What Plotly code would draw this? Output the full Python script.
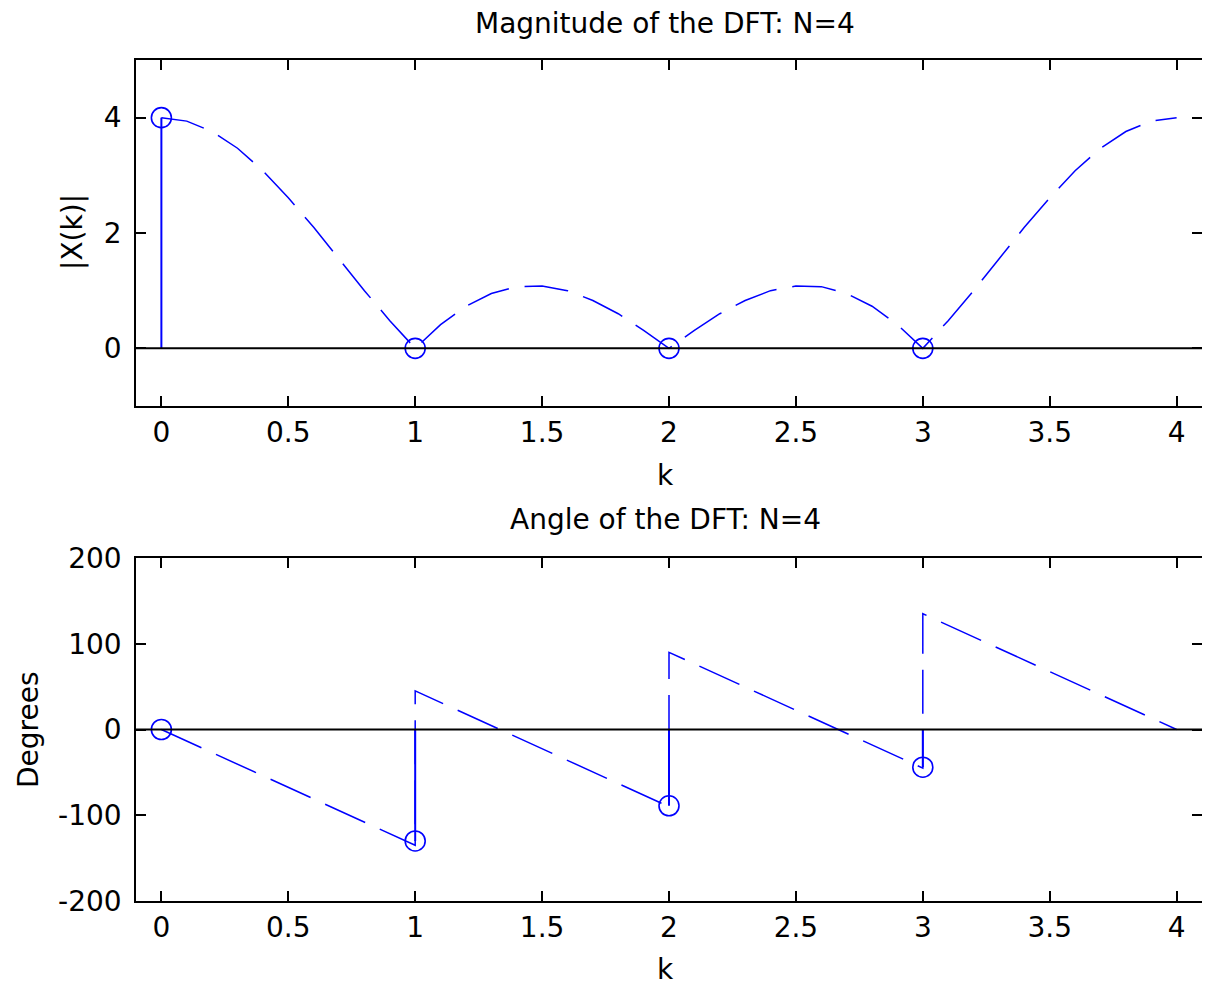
import plotly.graph_objects as go

# ---------------- data ----------------
k_dft = [0, 1, 2, 3]
mag_dft = [4.0, 0.0, 0.0, 0.0]
ang_dft = [0.0, -130.0, -89.0, -44.0]

k_curve = [0.0, 0.1, 0.2, 0.3, 0.4, 0.5, 0.6, 0.7, 0.8, 0.9,
           1.0, 1.1, 1.2, 1.3, 1.4, 1.5, 1.6, 1.7, 1.8, 1.9,
           2.0, 2.1, 2.2, 2.3, 2.4, 2.5, 2.6, 2.7, 2.8, 2.9,
           3.0, 3.1, 3.2, 3.3, 3.4, 3.5, 3.6, 3.7, 3.8, 3.9, 4.0]
mag_curve = [4.00, 3.94, 3.76, 3.47, 3.08, 2.61, 2.10, 1.55, 1.00, 0.48,
             0.00, 0.41, 0.73, 0.95, 1.07, 1.08, 1.00, 0.83, 0.60, 0.31,
             0.00, 0.31, 0.60, 0.83, 1.00, 1.08, 1.07, 0.95, 0.73, 0.41,
             0.00, 0.48, 1.00, 1.55, 2.10, 2.61, 3.08, 3.47, 3.76, 3.94, 4.00]

k_phase = [0, 1, 1, 2, 2, 3, 3, 4]
ang_curve = [0, -135, 45, -90, 90, -45, 135, 0]

x_ticks = [0, 0.5, 1, 1.5, 2, 2.5, 3, 3.5, 4]
x_ticktext = ["0", "0.5", "1", "1.5", "2", "2.5", "3", "3.5", "4"]
y1_ticks = [0, 2, 4]
y1_ticktext = ["0", "2", "4"]
y2_ticks = [-200, -100, 0, 100, 200]
y2_ticktext = ["-200", "-100", "0", "100", "200"]

title_top = "Magnitude of the DFT: N=4"
title_bot = "Angle of the DFT: N=4"
xlabel = "k"
ylabel_top = "|X(k)|"
ylabel_bot = "Degrees"

# ---------------- styling ----------------
BLUE = "#0000FF"
FONT = "DejaVu Sans"
OFF = 8                      # page body margin of the html page
W, H = 1210 - OFF, 987 - OFF


def px(x):
    return (x - OFF) / W


def py(y):
    return 1 - (y - OFF) / H


def stem_xy(xs, ys):
    sx, sy = [], []
    for x, y in zip(xs, ys):
        sx += [x, x, None]
        sy += [0, y, None]
    return sx, sy


fig = go.Figure()

DASH = "44px,16px"
MARK = dict(symbol="circle-open", size=20, color=BLUE, line=dict(color=BLUE, width=1.6))

# ---- top subplot ----
sx, sy = stem_xy(k_dft, mag_dft)
fig.add_trace(go.Scatter(x=sx, y=sy, mode="lines", line=dict(color=BLUE, width=2),
                         xaxis="x", yaxis="y", showlegend=False, hoverinfo="skip"))
fig.add_trace(go.Scatter(x=k_curve, y=mag_curve, mode="lines",
                         line=dict(color=BLUE, width=1.5, dash=DASH),
                         xaxis="x", yaxis="y", showlegend=False))
fig.add_trace(go.Scatter(x=k_dft, y=mag_dft, mode="markers", marker=MARK,
                         xaxis="x", yaxis="y", showlegend=False))

# ---- bottom subplot ----
sx, sy = stem_xy(k_dft, ang_dft)
fig.add_trace(go.Scatter(x=sx, y=sy, mode="lines", line=dict(color=BLUE, width=2),
                         xaxis="x2", yaxis="y2", showlegend=False, hoverinfo="skip"))
fig.add_trace(go.Scatter(x=k_phase, y=ang_curve, mode="lines",
                         line=dict(color=BLUE, width=1.5, dash=DASH),
                         xaxis="x2", yaxis="y2", showlegend=False))
fig.add_trace(go.Scatter(x=k_dft, y=ang_dft, mode="markers", marker=MARK,
                         xaxis="x2", yaxis="y2", showlegend=False))

xdom = [px(136), px(1202)]
y1dom = [py(406), py(60)]
y2dom = [py(901), py(558)]

axis_common = dict(
    showline=True, linecolor="black", linewidth=1.5, mirror="ticks",
    ticks="inside", ticklen=10, tickwidth=1.5, tickcolor="black",
    showgrid=False, zeroline=False, automargin=False,
    tickfont=dict(family=FONT, size=28, color="black"),
)

fig.update_layout(
    width=W, height=H,
    margin=dict(l=0, r=0, t=0, b=0),
    paper_bgcolor="white", plot_bgcolor="white",
    template="none",
    showlegend=False,
    xaxis=dict(domain=xdom, range=[-0.1, 4.1], anchor="y",
               tickvals=x_ticks, ticktext=x_ticktext, ticklabelstandoff=1, **axis_common),
    yaxis=dict(domain=y1dom, range=[-1, 5], anchor="x",
               tickvals=y1_ticks, ticktext=y1_ticktext, ticklabelstandoff=7, **axis_common),
    xaxis2=dict(domain=xdom, range=[-0.1, 4.1], anchor="y2",
                tickvals=x_ticks, ticktext=x_ticktext, ticklabelstandoff=1, **axis_common),
    yaxis2=dict(domain=y2dom, range=[-200, 200], anchor="x2",
                tickvals=y2_ticks, ticktext=y2_ticktext, ticklabelstandoff=7, **axis_common),
    shapes=[
        dict(type="line", xref="x domain", yref="y", x0=0, x1=1, y0=0, y1=0,
             line=dict(color="black", width=2), layer="above"),
        dict(type="line", xref="x2 domain", yref="y2", x0=0, x1=1, y0=0, y1=0,
             line=dict(color="black", width=2), layer="above"),
    ],
)

txt = dict(family=FONT, size=28, color="black")
ann = [
    dict(text=title_top, x=px(665), y=py(24), font=txt),
    dict(text=title_bot, x=px(665), y=py(519), font=txt),
    dict(text=xlabel, x=px(665), y=py(475), font=txt),
    dict(text=xlabel, x=px(665), y=py(969), font=txt),
    dict(text=ylabel_top, x=px(72), y=py(232), font=txt, textangle=-90),
    dict(text=ylabel_bot, x=px(28), y=py(730), font=txt, textangle=-90),
]
for a in ann:
    fig.add_annotation(xref="paper", yref="paper", showarrow=False,
                       xanchor="center", yanchor="middle", **a)

fig.write_html("out.html")
